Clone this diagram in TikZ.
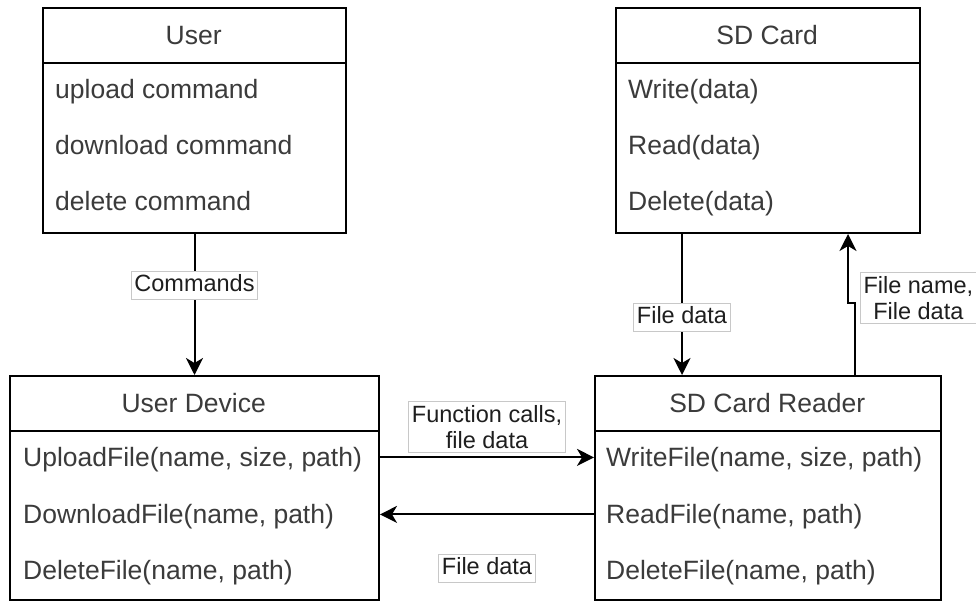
\documentclass[tikz,border=0pt]{standalone}
\usepackage{fontspec}
\setmainfont{Liberation Sans}
\usetikzlibrary{arrows.meta,positioning,calc}

\definecolor{boxtext}{HTML}{3B3B3B}
\definecolor{lbltext}{HTML}{1E1E1E}
\definecolor{lblborder}{HTML}{C8C8C8}

\tikzset{
  umlbox/.style={draw=black, line width=2pt, fill=white, inner sep=0pt, anchor=north west},
  headcell/.style={inner sep=0pt, minimum height=56pt, anchor=north west,
    font=\fontsize{26.5}{30}\selectfont, text=boxtext},
  rowtext/.style={inner sep=0pt, anchor=west, font=\fontsize{26.5}{30}\selectfont,
    text=boxtext, text height=19pt, text depth=6pt},
  sepline/.style={line width=2pt},
  conn/.style={line width=2pt, -{Stealth[length=17pt, width=17pt, inset=5pt]}},
  lblbase/.style={fill=white, draw=lblborder, line width=1pt, text=lbltext,
    font=\fontsize{23.5}{26}\selectfont, align=center, inner xsep=3pt},
  lbl/.style={lblbase, inner ysep=3pt, text height=17pt, text depth=5pt},
  lbltwo/.style={lblbase, inner ysep=4pt}
}

\begin{document}
\begin{tikzpicture}[x=1pt, y=-1pt]
\useasboundingbox (0,0) rectangle (976,601);

% ---------- User ----------
\node[umlbox, minimum width=303pt, minimum height=225pt] (user) at (42,7) {};
\node[headcell, minimum width=303pt] (userh) at (user.north west) {User};
\draw[sepline] (userh.south west) -- (userh.south east);
\node[rowtext] (user1) at ([xshift=13pt, yshift=-29pt]userh.south west) {upload command};
\node[rowtext] (user2) at ([yshift=-56pt]user1.west) {download command};
\node[rowtext] (user3) at ([yshift=-56pt]user2.west) {delete command};

% ---------- SD Card ----------
\node[umlbox, minimum width=304pt, minimum height=225pt] (sd) at (615,7) {};
\node[headcell, minimum width=304pt] (sdh) at (sd.north west) {SD Card};
\draw[sepline] (sdh.south west) -- (sdh.south east);
\node[rowtext] (sd1) at ([xshift=13pt, yshift=-29pt]sdh.south west) {Write(data)};
\node[rowtext] (sd2) at ([yshift=-56pt]sd1.west) {Read(data)};
\node[rowtext] (sd3) at ([yshift=-56pt]sd2.west) {Delete(data)};

% ---------- User Device ----------
\node[umlbox, minimum width=369pt, minimum height=224pt] (ud) at (9,375) {};
\node[headcell, minimum width=369pt] (udh) at (ud.north west) {User Device};
\draw[sepline] (udh.south west) -- (udh.south east);
\node[rowtext] (ud1) at ([xshift=14pt, yshift=-29pt]udh.south west) {UploadFile(name, size, path)};
\node[rowtext] (ud2) at ([yshift=-57pt]ud1.west) {DownloadFile(name, path)};
\node[rowtext] (ud3) at ([yshift=-56pt]ud2.west) {DeleteFile(name, path)};

% ---------- SD Card Reader ----------
\node[umlbox, minimum width=346pt, minimum height=224pt] (rd) at (594,375) {};
\node[headcell, minimum width=346pt] (rdh) at (rd.north west) {SD Card Reader};
\draw[sepline] (rdh.south west) -- (rdh.south east);
\node[rowtext] (rd1) at ([xshift=12pt, yshift=-29pt]rdh.south west) {WriteFile(name, size, path)};
\node[rowtext] (rd2) at ([yshift=-57pt]rd1.west) {ReadFile(name, path)};
\node[rowtext] (rd3) at ([yshift=-56pt]rd2.west) {DeleteFile(name, path)};

% ---------- Connectors ----------
\draw[conn] (user.south) -- (ud.north)
  node[lbl, pos=0.364] (lcmd) {Commands};

\draw[conn] ([xshift=-86pt]sd.south) -- ([xshift=-86pt]sd.south |- rd.north)
  node[lbl, pos=0.594] (lsdread) {File data};

\draw[conn] ([xshift=87pt]rd.north) -- ++(0,-72) coordinate (kink)
  -| ([xshift=80pt]sd.south);
\node[lbltwo, anchor=west] (lsdwrite) at ([xshift=5pt, yshift=5pt]kink) {File name,\\File data};

\draw[conn] ([yshift=3pt]ud.east |- ud1) -- ([yshift=3pt]rd.west |- ud1)
  node[lbltwo, midway, above=4pt] (lcall) {Function calls,\\file data};

\draw[conn] ([yshift=3pt]rd.west |- ud2) -- ([yshift=3pt]ud.east |- ud2)
  node[lbl, midway, below=40pt] (lret) {File data};

\end{tikzpicture}
\end{document}
